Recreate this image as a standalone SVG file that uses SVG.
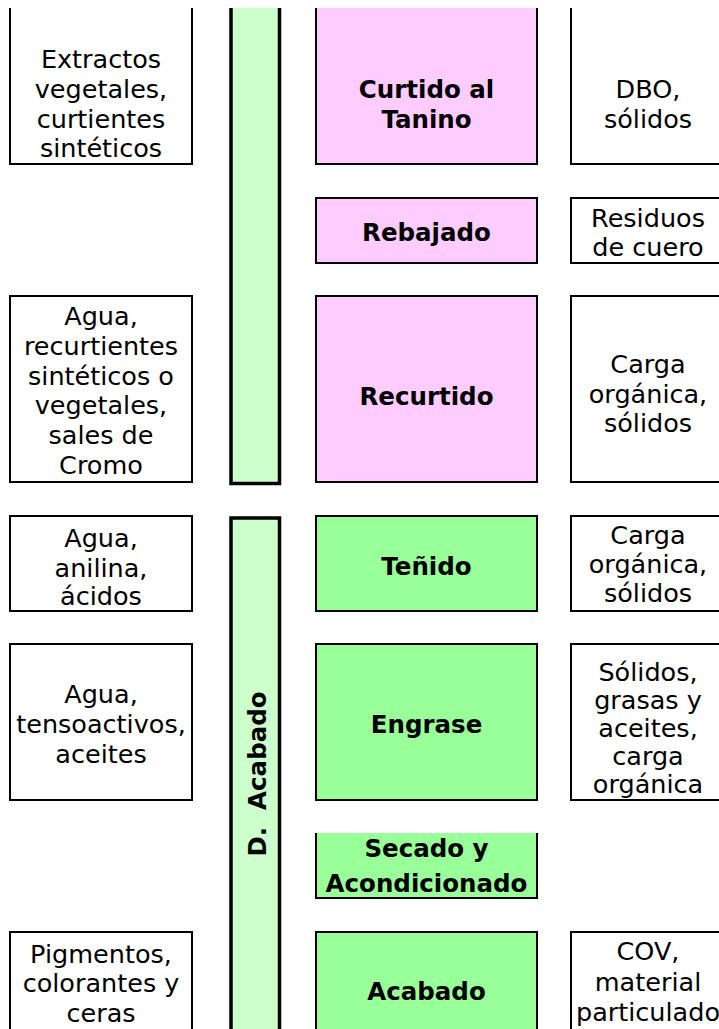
<svg xmlns="http://www.w3.org/2000/svg" width="719" height="1029" viewBox="0 0 719 1029">
<style>
.bx{fill:#ffffff;stroke:#000;stroke-width:2}
.pk{fill:#ffccff;stroke:#000;stroke-width:2}
.gr{fill:#99ff99;stroke:#000;stroke-width:2}
.bar{fill:#ccffcc;stroke:#000;stroke-width:3.5}
.nf{fill:none}
text{font-family:"DejaVu Sans",Verdana,sans-serif;font-size:25.5px;fill:#000;text-anchor:middle}
.b{font-weight:bold;font-size:24.5px}
</style>
<rect width="719" height="1029" fill="#ffffff"/>
<g id="connectors"></g>

<g id="bar-top">
<path class="bar" d="M231,8 V483.5 H279.5 V8"/>
</g>
<g id="bar-acabado">
<rect class="bar" x="231" y="518" width="48.5" height="540"/>
<text class="b" transform="translate(266,774) rotate(-90)" xml:space="preserve">D.  Acabado</text>
</g>

<g id="in-curtido">
<path class="bx" d="M10,8 V164 H192 V8"/>
<text x="101" y="68">Extractos</text>
<text x="101" y="98">vegetales,</text>
<text x="101" y="128">curtientes</text>
<text x="101" y="157">sintéticos</text>
</g>
<g id="curtido">
<path class="pk" d="M316,8 V164 H537 V8"/>
<text class="b" x="426.5" y="98">Curtido al</text>
<text class="b" x="426.5" y="128">Tanino</text>
</g>
<g id="out-curtido">
<path class="bx" d="M571,8 V164 H730"/>
<text x="648" y="98">DBO,</text>
<text x="648" y="128">sólidos</text>
</g>

<g id="rebajado">
<rect class="pk" x="316" y="198" width="221" height="65"/>
<text class="b" x="426.5" y="241">Rebajado</text>
</g>
<g id="out-rebajado">
<path class="bx" d="M730,198 H571 V263 H730"/>
<text x="648" y="227">Residuos</text>
<text x="648" y="256">de cuero</text>
</g>

<g id="in-recurtido">
<rect class="bx" x="10" y="296" width="182" height="186"/>
<text x="101" y="325">Agua,</text>
<text x="101" y="355">recurtientes</text>
<text x="101" y="384.5">sintéticos o</text>
<text x="101" y="414">vegetales,</text>
<text x="101" y="444">sales de</text>
<text x="101" y="474">Cromo</text>
</g>
<g id="recurtido">
<rect class="pk" x="316" y="296" width="221" height="186"/>
<text class="b" x="426.5" y="405">Recurtido</text>
</g>
<g id="out-recurtido">
<path class="bx" d="M730,296 H571 V482 H730"/>
<text x="648" y="373">Carga</text>
<text x="648" y="403">orgánica,</text>
<text x="648" y="432">sólidos</text>
</g>

<g id="in-tenido">
<rect class="bx" x="10" y="516" width="182" height="95"/>
<text x="101" y="547">Agua,</text>
<text x="101" y="576.5">anilina,</text>
<text x="101" y="605">ácidos</text>
</g>
<g id="tenido">
<rect class="gr" x="316" y="516" width="221" height="95"/>
<text class="b" x="426.5" y="575">Teñido</text>
</g>
<g id="out-tenido">
<path class="bx" d="M730,516 H571 V611 H730"/>
<text x="648" y="544">Carga</text>
<text x="648" y="573">orgánica,</text>
<text x="648" y="602">sólidos</text>
</g>

<g id="in-engrase">
<rect class="bx" x="10" y="644" width="182" height="156"/>
<text x="101" y="703">Agua,</text>
<text x="101" y="733">tensoactivos,</text>
<text x="101" y="763">aceites</text>
</g>
<g id="engrase">
<rect class="gr" x="316" y="644" width="221" height="156"/>
<text class="b" x="426.5" y="733">Engrase</text>
</g>
<g id="out-engrase">
<path class="bx" d="M730,644 H571 V800 H730"/>
<text x="648" y="681">Sólidos,</text>
<text x="648" y="709">grasas y</text>
<text x="648" y="737">aceites,</text>
<text x="648" y="765">carga</text>
<text x="648" y="793">orgánica</text>
</g>

<g id="secado">
<rect x="316" y="833" width="221" height="65" fill="#99ff99"/>
<path class="nf" d="M316,833 V898 H537 V833" stroke="#000" stroke-width="2"/>
<text class="b" x="426.5" y="857">Secado y</text>
<text class="b" x="426.5" y="892">Acondicionado</text>
</g>

<g id="in-acabado">
<path class="bx" d="M10,1040 V932 H192 V1040"/>
<text x="101" y="963">Pigmentos,</text>
<text x="101" y="992">colorantes y</text>
<text x="101" y="1022">ceras</text>
</g>
<g id="acabado">
<path class="gr" d="M316,1040 V932 H537 V1040"/>
<text class="b" x="426.5" y="1000">Acabado</text>
</g>
<g id="out-acabado">
<path class="bx" d="M730,932 H571 V1040"/>
<text x="648" y="960">COV,</text>
<text x="648" y="991">material</text>
<text x="648" y="1021">particulado</text>
</g>
</svg>
